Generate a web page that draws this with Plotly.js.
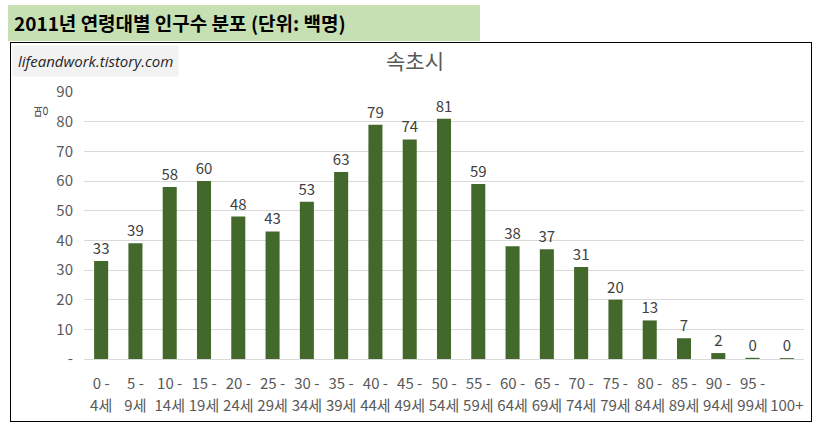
<!DOCTYPE html>
<html>
<head>
<meta charset="utf-8">
<script src="https://cdn.plot.ly/plotly-3.0.1.min.js"></script>
<style>
  body { margin: 0; background: #fff; font-family: "Noto Sans CJK KR", sans-serif; }
  #header {
    position: absolute; left: 8px; top: 5px; width: 472px; height: 36px;
    background: #c6e0b4; font-weight: bold; font-size: 19px; color: #000;
    line-height: 36px; padding-left: 6px; box-sizing: border-box;
  }
  #chart {
    position: absolute; left: 10px; top: 42px; width: 800px; height: 378px;
    border: 1px solid #000;
  }
</style>
</head>
<body>
<div id="header">2011년 연령대별 인구수 분포 (단위: 백명)</div>
<div id="chart"></div>
<script>
// age bands: first and second line of each tick label
const ageFrom = ['0 -', '5 -', '10 -', '15 -', '20 -', '25 -', '30 -', '35 -', '40 -', '45 -',
    '50 -', '55 -', '60 -', '65 -', '70 -', '75 -', '80 -', '85 -', '90 -', '95 -', ''];
const ageTo = ['4세', '9세', '14세', '19세', '24세', '29세', '34세', '39세', '44세', '49세',
    '54세', '59세', '64세', '69세', '74세', '79세', '84세', '89세', '94세', '99세', '100+'];
// population in hundreds
const population = [33, 39, 58, 60, 48, 43, 53, 63, 79, 74, 81, 59, 38, 37, 31, 20, 13, 7, 2, 0.4, 0.3];
const yTicks = [0, 10, 20, 30, 40, 50, 60, 70, 80, 90];
const yTickText = ['-', '10', '20', '30', '40', '50', '60', '70', '80', '90'];

const categories = ageTo.map((v, i) => i);
const greyFont = { family: "'Noto Sans CJK KR', sans-serif", size: 15, color: '#595959' };

const data = [
    {
        x: categories,
        y: population,
        type: 'bar',
        marker: { color: '#43682b' },
        text: population.map((v) => String(Math.round(v))),
        textposition: 'outside',
        constraintext: 'none',
        textfont: { family: "'Noto Sans CJK KR', sans-serif", size: 15, color: '#404040' },
        cliponaxis: false,
        hoverinfo: 'x+y',
    },
    {
        // carries the second line of the tick labels
        x: categories,
        y: population,
        xaxis: 'x2',
        type: 'scatter',
        mode: 'markers',
        marker: { opacity: 0 },
        hoverinfo: 'skip',
    },
];

const layout = {
    width: 800,
    height: 378,
    margin: { l: 73, r: 7, t: 49, b: 62 },
    paper_bgcolor: '#fff',
    plot_bgcolor: '#fff',
    showlegend: false,
    bargap: 0.59,
    font: greyFont,
    title: {
        text: '속초시',
        xref: 'container',
        x: 0.505,
        y: 0.95,
        yanchor: 'middle',
        font: { family: "'Noto Sans CJK KR', sans-serif", size: 21, color: '#595959' },
    },
    xaxis: {
        type: 'linear',
        range: [-0.5, 20.5],
        tickmode: 'array',
        tickvals: categories,
        ticktext: ageFrom,
        ticks: '',
        showgrid: false,
        zeroline: false,
        showline: true,
        linecolor: '#d9d9d9',
        ticklabelstandoff: 11,
        tickfont: greyFont,
        fixedrange: true,
    },
    xaxis2: {
        type: 'linear',
        overlaying: 'x',
        side: 'bottom',
        anchor: 'y',
        range: [-0.5, 20.5],
        tickmode: 'array',
        tickvals: categories,
        ticktext: ageTo,
        ticks: '',
        showgrid: false,
        zeroline: false,
        showline: false,
        ticklabelstandoff: 36,
        tickfont: greyFont,
    },
    yaxis: {
        range: [0, 90],
        tickmode: 'array',
        tickvals: yTicks,
        ticktext: yTickText,
        showgrid: true,
        gridcolor: '#d9d9d9',
        zeroline: false,
        showline: false,
        ticks: '',
        ticklabelstandoff: 10,
        tickfont: greyFont,
    },
    annotations: [
        {
            text: '명',
            textangle: -90,
            xref: 'paper', yref: 'paper',
            x: -0.078, y: 0.96,
            showarrow: false,
            font: { family: "'Noto Sans CJK KR', sans-serif", size: 14, color: '#595959' },
        },
        {
            text: 'lifeandwork.tistory.com',
            xref: 'paper', yref: 'paper',
            x: -0.1, y: 1.176,
            xanchor: 'left', yanchor: 'top',
            showarrow: false,
            bgcolor: '#f2f2f2',
            borderpad: 5,
            font: { family: "'Open Sans', sans-serif", size: 15, color: '#262626', style: 'italic' },
        },
    ],
};

Plotly.newPlot('chart', data, layout, { displayModeBar: false, staticPlot: true });
</script>
</body>
</html>
